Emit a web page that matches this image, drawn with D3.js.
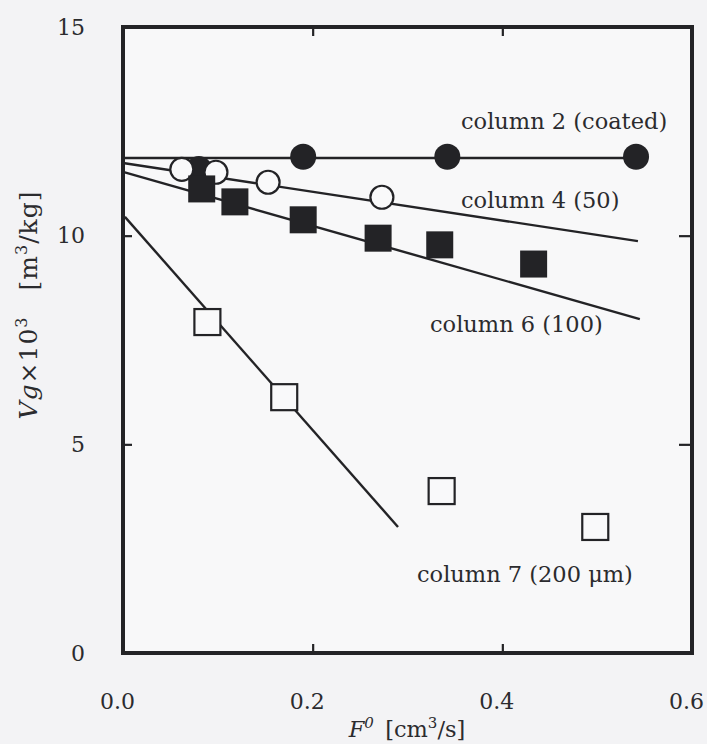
<!DOCTYPE html>
<html>
<head>
<meta charset="utf-8">
<script src="https://cdn.jsdelivr.net/npm/d3@7"></script>
<style>
  html, body { margin: 0; padding: 0; background: #f3f3f5; }
  svg { display: block; }
  text { font-family: "DejaVu Serif", serif; fill: #2b2b2e; }
</style>
</head>
<body>
<svg id="chart" width="707" height="744"></svg>
<script>
// ---- data ----
const xTicks = [0.0, 0.2, 0.4, 0.6];
const xTickLabels = ["0.0", "0.2", "0.4", "0.6"];
const yTicks = [0, 5, 10, 15];
const yTickLabels = ["0", "5", "10", "15"];

// column 2 (coated) – filled circles
const col2X = [0.080, 0.190, 0.342, 0.541];
const col2Y = [11.60, 11.89, 11.89, 11.89];
const col2Line = [[0, 11.86], [0.541, 11.86]];

// column 4 (50) – open circles
const col4X = [0.062, 0.098, 0.153, 0.273];
const col4Y = [11.59, 11.52, 11.28, 10.92];
const col4Line = [[0, 11.74], [0.543, 9.87]];

// column 6 (100) – filled squares
const col6X = [0.083, 0.118, 0.190, 0.269, 0.334, 0.433];
const col6Y = [11.12, 10.81, 10.38, 9.94, 9.78, 9.32];
const col6Line = [[0, 11.53], [0.545, 8.00]];

// column 7 (200 µm) – open squares
const col7X = [0.089, 0.170, 0.336, 0.498];
const col7Y = [7.93, 6.13, 3.88, 3.02];
const col7Line = [[0.002, 10.45], [0.290, 3.02]];

const seriesLabels = ["column 2 (coated)", "column 4 (50)", "column 6 (100)", "column 7 (200 \u03BCm)"];

// ---- layout ----
const svg = d3.select("#chart");
const x = d3.scaleLinear().domain([0, 0.6]).range([123, 692]);
const y = d3.scaleLinear().domain([0, 15]).range([653, 27]);
const ink = "#232326";

// frame background
svg.append("rect")
  .attr("x", x(0)).attr("y", y(15))
  .attr("width", x(0.6) - x(0)).attr("height", y(0) - y(15))
  .attr("fill", "#f8f8f9");

// tick marks (inward) via axes
const tickLen = 9;
const innerX = [0.2, 0.4], innerY = [5, 10];
function tickAxis(axis) {
  return g => { g.call(axis); g.select(".domain").remove();
    g.selectAll(".tick line").attr("stroke", ink).attr("stroke-width", 2.2);
    g.selectAll(".tick text").remove(); };
}
svg.append("g").attr("transform", `translate(0,${y(0)})`)
  .call(tickAxis(d3.axisBottom(x).tickValues(innerX).tickSize(-tickLen)));
svg.append("g").attr("transform", `translate(0,${y(15)})`)
  .call(tickAxis(d3.axisTop(x).tickValues(innerX).tickSize(-tickLen)));
svg.append("g").attr("transform", `translate(${x(0)},0)`)
  .call(tickAxis(d3.axisLeft(y).tickValues(innerY).tickSize(-tickLen)));
svg.append("g").attr("transform", `translate(${x(0.6)},0)`)
  .call(tickAxis(d3.axisRight(y).tickValues(innerY).tickSize(-13)));

// tick labels via axes
const tickFont = 22;
const xLab = svg.append("g").attr("transform", `translate(-6,${y(0)})`)
  .call(d3.axisBottom(x).tickValues(xTicks).tickSize(0).tickPadding(40)
        .tickFormat((d, i) => xTickLabels[i]));
xLab.select(".domain").remove();
xLab.selectAll("text").attr("font-size", tickFont).attr("font-family", "DejaVu Serif").attr("fill", "#2b2b2e");

const yLab = svg.append("g").attr("transform", `translate(${x(0)},0)`)
  .call(d3.axisLeft(y).tickValues(yTicks).tickSize(0).tickPadding(38)
        .tickFormat((d, i) => yTickLabels[i]));
yLab.select(".domain").remove();
yLab.selectAll("text").attr("font-size", tickFont).attr("font-family", "DejaVu Serif").attr("fill", "#2b2b2e");

// fitted lines
const line = d3.line().x(d => x(d[0])).y(d => y(d[1]));
[col2Line, col4Line, col6Line, col7Line].forEach(l => {
  svg.append("path").attr("d", line(l)).attr("fill", "none")
    .attr("stroke", ink).attr("stroke-width", 2.4);
});

// markers
const zip = (xs, ys) => xs.map((v, i) => [v, ys[i]]);
svg.append("g").selectAll("circle").data(zip(col2X, col2Y)).join("circle")
  .attr("cx", d => x(d[0])).attr("cy", d => y(d[1])).attr("r", 13)
  .attr("fill", ink);
svg.append("g").selectAll("circle").data(zip(col4X, col4Y)).join("circle")
  .attr("cx", d => x(d[0])).attr("cy", d => y(d[1])).attr("r", 11.5)
  .attr("fill", "#f9f9fa").attr("stroke", ink).attr("stroke-width", 2.2);
const sq = 27;
svg.append("g").selectAll("rect").data(zip(col6X, col6Y)).join("rect")
  .attr("x", d => x(d[0]) - sq / 2).attr("y", d => y(d[1]) - sq / 2)
  .attr("width", sq).attr("height", sq).attr("fill", ink);
const osq = 26;
svg.append("g").selectAll("rect").data(zip(col7X, col7Y)).join("rect")
  .attr("x", d => x(d[0]) - osq / 2).attr("y", d => y(d[1]) - osq / 2)
  .attr("width", osq).attr("height", osq)
  .attr("fill", "#f9f9fa").attr("stroke", ink).attr("stroke-width", 2.2);

// frame
svg.append("rect")
  .attr("x", x(0)).attr("y", y(15))
  .attr("width", x(0.6) - x(0)).attr("height", y(0) - y(15))
  .attr("fill", "none").attr("stroke", ink).attr("stroke-width", 4);

// series labels
const labelFont = 22.5;
const labelPos = [[461, 129], [461, 208], [430, 332], [417, 582]];
seriesLabels.forEach((t, i) => {
  svg.append("text").attr("x", labelPos[i][0]).attr("y", labelPos[i][1])
    .attr("font-size", labelFont).text(t);
});

// x-axis title
const xt = svg.append("text").attr("x", 407).attr("y", 737)
  .attr("text-anchor", "middle").attr("font-size", labelFont);
xt.append("tspan").attr("font-style", "italic").text("F");
xt.append("tspan").attr("font-style", "italic").attr("font-size", 15).attr("dy", -9).text("0");
xt.append("tspan").attr("dy", 9).text("\u2002[cm");
xt.append("tspan").attr("font-size", 15).attr("dy", -9).text("3");
xt.append("tspan").attr("dy", 9).text("/s]");

// y-axis title
const yt = svg.append("text")
  .attr("transform", "translate(37,305) rotate(-90)")
  .attr("text-anchor", "middle").attr("font-size", 25)
  .attr("letter-spacing", 1);
yt.append("tspan").attr("font-style", "italic").text("Vg");
yt.append("tspan").text("\u00D710");
yt.append("tspan").attr("font-size", 16).attr("dy", -10).text("3");
yt.append("tspan").attr("dy", 10).text("\u2003[m");
yt.append("tspan").attr("font-size", 16).attr("dy", -10).text("3");
yt.append("tspan").attr("dy", 10).text("/kg]");
</script>
</body>
</html>
